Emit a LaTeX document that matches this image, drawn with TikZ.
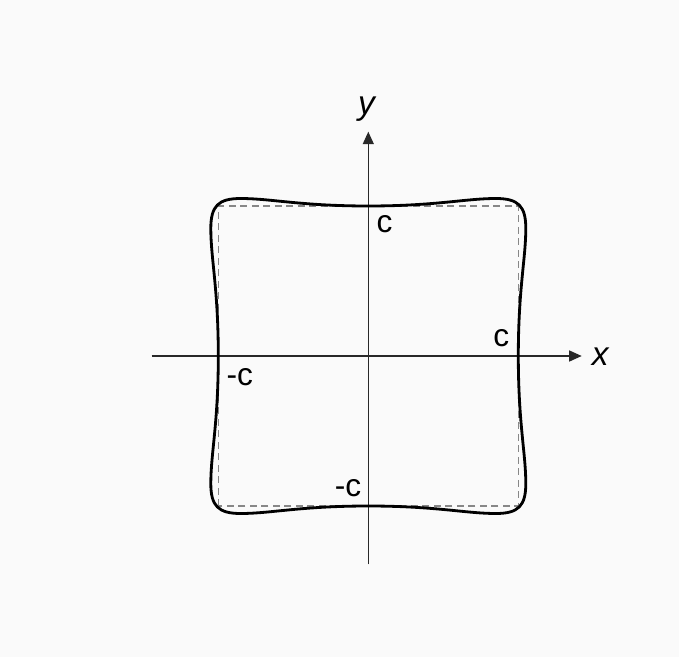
\documentclass[tikz,border=0pt]{standalone}
\usepackage{fontspec}
\setmainfont{Liberation Sans}
\usetikzlibrary{arrows.meta}
\definecolor{bg}{RGB}{250,250,250}
\definecolor{axiscol}{RGB}{40,40,40}
\definecolor{dashcol}{RGB}{135,135,135}
\tikzset{
  axis/.style={draw=axiscol, line width=0.75pt, -{Triangle[length=0.25cm,width=0.22cm]}},
  guide/.style={draw=dashcol, line width=0.6pt, dash pattern=on 0.14cm off 0.09cm},
  curvestyle/.style={draw=black, line width=1.6pt, line join=round},
  lbl/.style={inner sep=0pt, anchor=base, font=\fontsize{18}{18}\selectfont},
  axlbl/.style={inner sep=0pt, anchor=base, font=\fontsize{19}{19}\selectfont\itshape}
}
\begin{document}
\begin{tikzpicture}
\fill[bg] (-7.366,-6.02) rectangle (6.214,7.12);
\useasboundingbox (-7.366,-6.02) rectangle (6.214,7.12);
\coordinate (xs) at (-4.332,0);
\coordinate (xe) at (4.268,0);
\coordinate (ys) at (0,-4.166);
\coordinate (ye) at (0,4.486);
\begin{scope}[scale=3]
\draw[guide] (-1,-1) rectangle (1,1);
\end{scope}
\draw[axis] (xs) -- (xe);
\draw[axis] (ys) -- (ye);
\begin{scope}[scale=3]
\draw[curvestyle] (0,1) .. controls (0.45,1) and (0.65,1.05) .. (0.85,1.05)
  .. controls (1.0,1.05) and (1.05,1.0) .. (1.05,0.85)
  .. controls (1.05,0.65) and (1,0.45) .. (1,0)
  .. controls (1,-0.45) and (1.05,-0.65) .. (1.05,-0.85)
  .. controls (1.05,-1.0) and (1.0,-1.05) .. (0.85,-1.05)
  .. controls (0.65,-1.05) and (0.45,-1) .. (0,-1)
  .. controls (-0.45,-1) and (-0.65,-1.05) .. (-0.85,-1.05)
  .. controls (-1,-1.05) and (-1.05,-1) .. (-1.05,-0.85)
  .. controls (-1.05,-0.65) and (-1,-0.45) .. (-1,0)
  .. controls (-1,0.45) and (-1.05,0.65) .. (-1.05,0.85)
  .. controls (-1.05,1) and (-1,1.05) .. (-0.85,1.05)
  .. controls (-0.65,1.05) and (-0.45,1) .. cycle;
\end{scope}
\node[axlbl] (ylab) at (-0.036,4.82) {y};
\node[axlbl] (xlab) at (4.64,-0.18) {x};
\node[lbl] (ctop) at (0.324,2.46) {c};
\node[lbl] (cright) at (2.66,0.2) {c};
\node[lbl] (cleft) at (-2.572,-0.58) {-c};
\node[lbl] (cbottom) at (-0.406,-2.8) {-c};
\end{tikzpicture}
\end{document}
